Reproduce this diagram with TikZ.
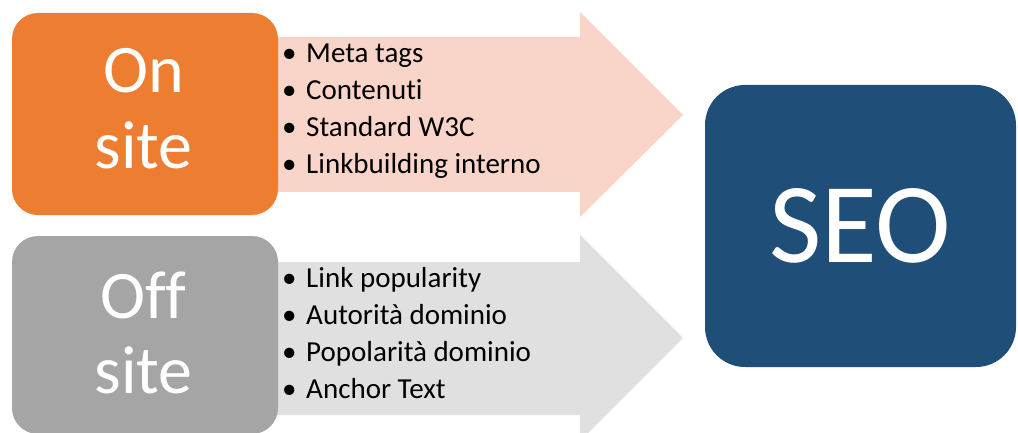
\documentclass[tikz,border=0pt]{standalone}
\usepackage{fontspec}
\setmainfont[Ligatures=NoCommon]{Carlito}
\definecolor{onsite}{RGB}{237,125,49}
\definecolor{onsitearrow}{RGB}{248,213,200}
\definecolor{offsite}{RGB}{165,165,165}
\definecolor{offsitearrow}{RGB}{224,224,224}
\definecolor{seoblue}{RGB}{31,78,121}
\begin{document}
\begin{tikzpicture}
  [x=1pt,y=-1pt,
   block/.style={rounded corners=26pt,inner sep=0pt,minimum width=266pt,minimum height=202pt},
   bigword/.style={anchor=base,inner sep=0pt,text=white,font=\fontsize{68}{76}\selectfont},
   item/.style={anchor=base west,inner sep=0pt,font=\fontsize{29}{37}\selectfont}]
  \useasboundingbox (0,0) rectangle (1018,433);

  % arrows behind the boxes
  \fill[onsitearrow] (270,37) -- (580,37) -- (580,12) -- (683,115) -- (580,217) -- (580,192) -- (270,192) -- cycle;
  \fill[offsitearrow] (270,262) -- (580,262) -- (580,235) -- (683,338) -- (580,441) -- (580,415) -- (270,415) -- cycle;

  \node[block,fill=onsite] (on) at (145,114) {};
  \node[block,fill=offsite,minimum height=198pt] (off) at (145,335) {};
  \node[block,fill=seoblue,rounded corners=40pt,minimum width=311pt,minimum height=282pt,
    text=white,font=\fontsize{114}{114}\selectfont] (seo) at (860.5,226) {SEO};

  \node[bigword] (on1w) at (143.5,93) {On};
  \node[bigword] (on2w) at (143.5,169) {site};
  \node[bigword] (off1w) at (143.5,318) {Off};
  \node[bigword] (off2w) at (143.5,393) {site};

  \foreach \txt [count=\i] in {Meta tags,Contenuti,Standard W3C,Linkbuilding interno}
    \node[item] (on\i) at (282,{26+37*\i}) {\textbullet\hspace{9.6pt}\txt};
  \foreach \txt [count=\i] in {Link popularity,Autorità dominio,Popolarità dominio,Anchor Text}
    \node[item] (off\i) at (282,{250+37*\i}) {\textbullet\hspace{9.6pt}\txt};
\end{tikzpicture}
\end{document}
